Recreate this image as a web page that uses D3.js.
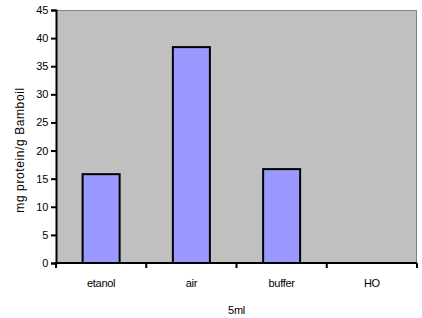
<!doctype html>
<html>
<head>
<meta charset="utf-8">
<script src="https://d3js.org/d3.v7.min.js"></script>
<style>
  body { margin: 0; background: #fff; }
  svg text { font-family: "Liberation Sans", Arial, sans-serif; font-size: 11px; fill: #000; letter-spacing: -0.3px; }
</style>
</head>
<body>
<div id="chart"></div>
<script>
const categories = ['etanol', 'air', 'buffer', 'HO'];
const values = [15.8, 38.4, 16.7, 0];
const yTicks = [0, 5, 10, 15, 20, 25, 30, 35, 40, 45];

const width = 422, height = 318;
const margin = {top: 10, right: 5, bottom: 55, left: 56};

const svg = d3.select('#chart')
  .append('svg')
  .attr('width', width)
  .attr('height', height);

const x = d3.scaleBand()
  .domain(categories)
  .range([margin.left, width - margin.right])
  .paddingInner(0.59)
  .paddingOuter(0.295);

const y = d3.scaleLinear()
  .domain([0, 45])
  .range([height - margin.bottom, margin.top]);

// plot area
svg.append('rect')
  .attr('x', margin.left)
  .attr('y', margin.top)
  .attr('width', width - margin.right - margin.left)
  .attr('height', y(0) - margin.top)
  .attr('fill', '#c0c0c0');

svg.append('path')
  .attr('d', `M${margin.left},${margin.top + 0.5}H${width - margin.right - 0.5}V${y(0)}`)
  .attr('fill', 'none')
  .attr('stroke', '#808080')
  .attr('stroke-width', 1);

// bars
svg.selectAll('rect.bar')
  .data(values)
  .enter()
  .append('rect')
  .attr('class', 'bar')
  .attr('x', (d, i) => x(categories[i]))
  .attr('y', d => y(d))
  .attr('width', x.bandwidth())
  .attr('height', d => y(0) - y(d))
  .attr('fill', '#9999ff')
  .attr('stroke', '#000')
  .attr('stroke-width', 2)
  .style('display', d => d > 0 ? null : 'none');

// y axis
const yAxis = svg.append('g')
  .attr('transform', `translate(${margin.left},0)`)
  .call(d3.axisLeft(y).tickValues(yTicks).tickSize(5).tickPadding(3));
yAxis.select('.domain').attr('stroke-width', 2);
yAxis.selectAll('.tick line').attr('stroke-width', 2);
yAxis.selectAll('text').style('font-size', '11px').style('font-family', '"Liberation Sans", Arial, sans-serif');

// x axis with ticks at band edges
const xEdges = categories.map(c => x(c) - x.step() * x.paddingInner() / 2).concat([width - margin.right]);
const xAxis = svg.append('g')
  .attr('transform', `translate(0,${y(0)})`);
xAxis.append('line')
  .attr('x1', margin.left - 1)
  .attr('x2', width - margin.right)
  .attr('stroke', '#000')
  .attr('stroke-width', 2);
xAxis.selectAll('line.tk')
  .data(xEdges)
  .enter()
  .append('line')
  .attr('class', 'tk')
  .attr('x1', d => d)
  .attr('x2', d => d)
  .attr('y1', 0)
  .attr('y2', 5)
  .attr('stroke', '#000')
  .attr('stroke-width', 2);
xAxis.selectAll('text')
  .data(categories)
  .enter()
  .append('text')
  .attr('x', d => x(d) + x.bandwidth() / 2)
  .attr('y', 24)
  .attr('text-anchor', 'middle')
  .text(d => d);

// axis titles
svg.append('text')
  .attr('x', (margin.left + width - margin.right) / 2)
  .attr('y', 314)
  .attr('text-anchor', 'middle')
  .text('5ml');

svg.append('text')
  .attr('transform', `translate(24,150) rotate(-90)`)
  .attr('text-anchor', 'middle')
  .style('font-size', '12px')
  .style('letter-spacing', '0.6px')
  .text('mg protein/g Bamboil');
</script>
</body>
</html>
